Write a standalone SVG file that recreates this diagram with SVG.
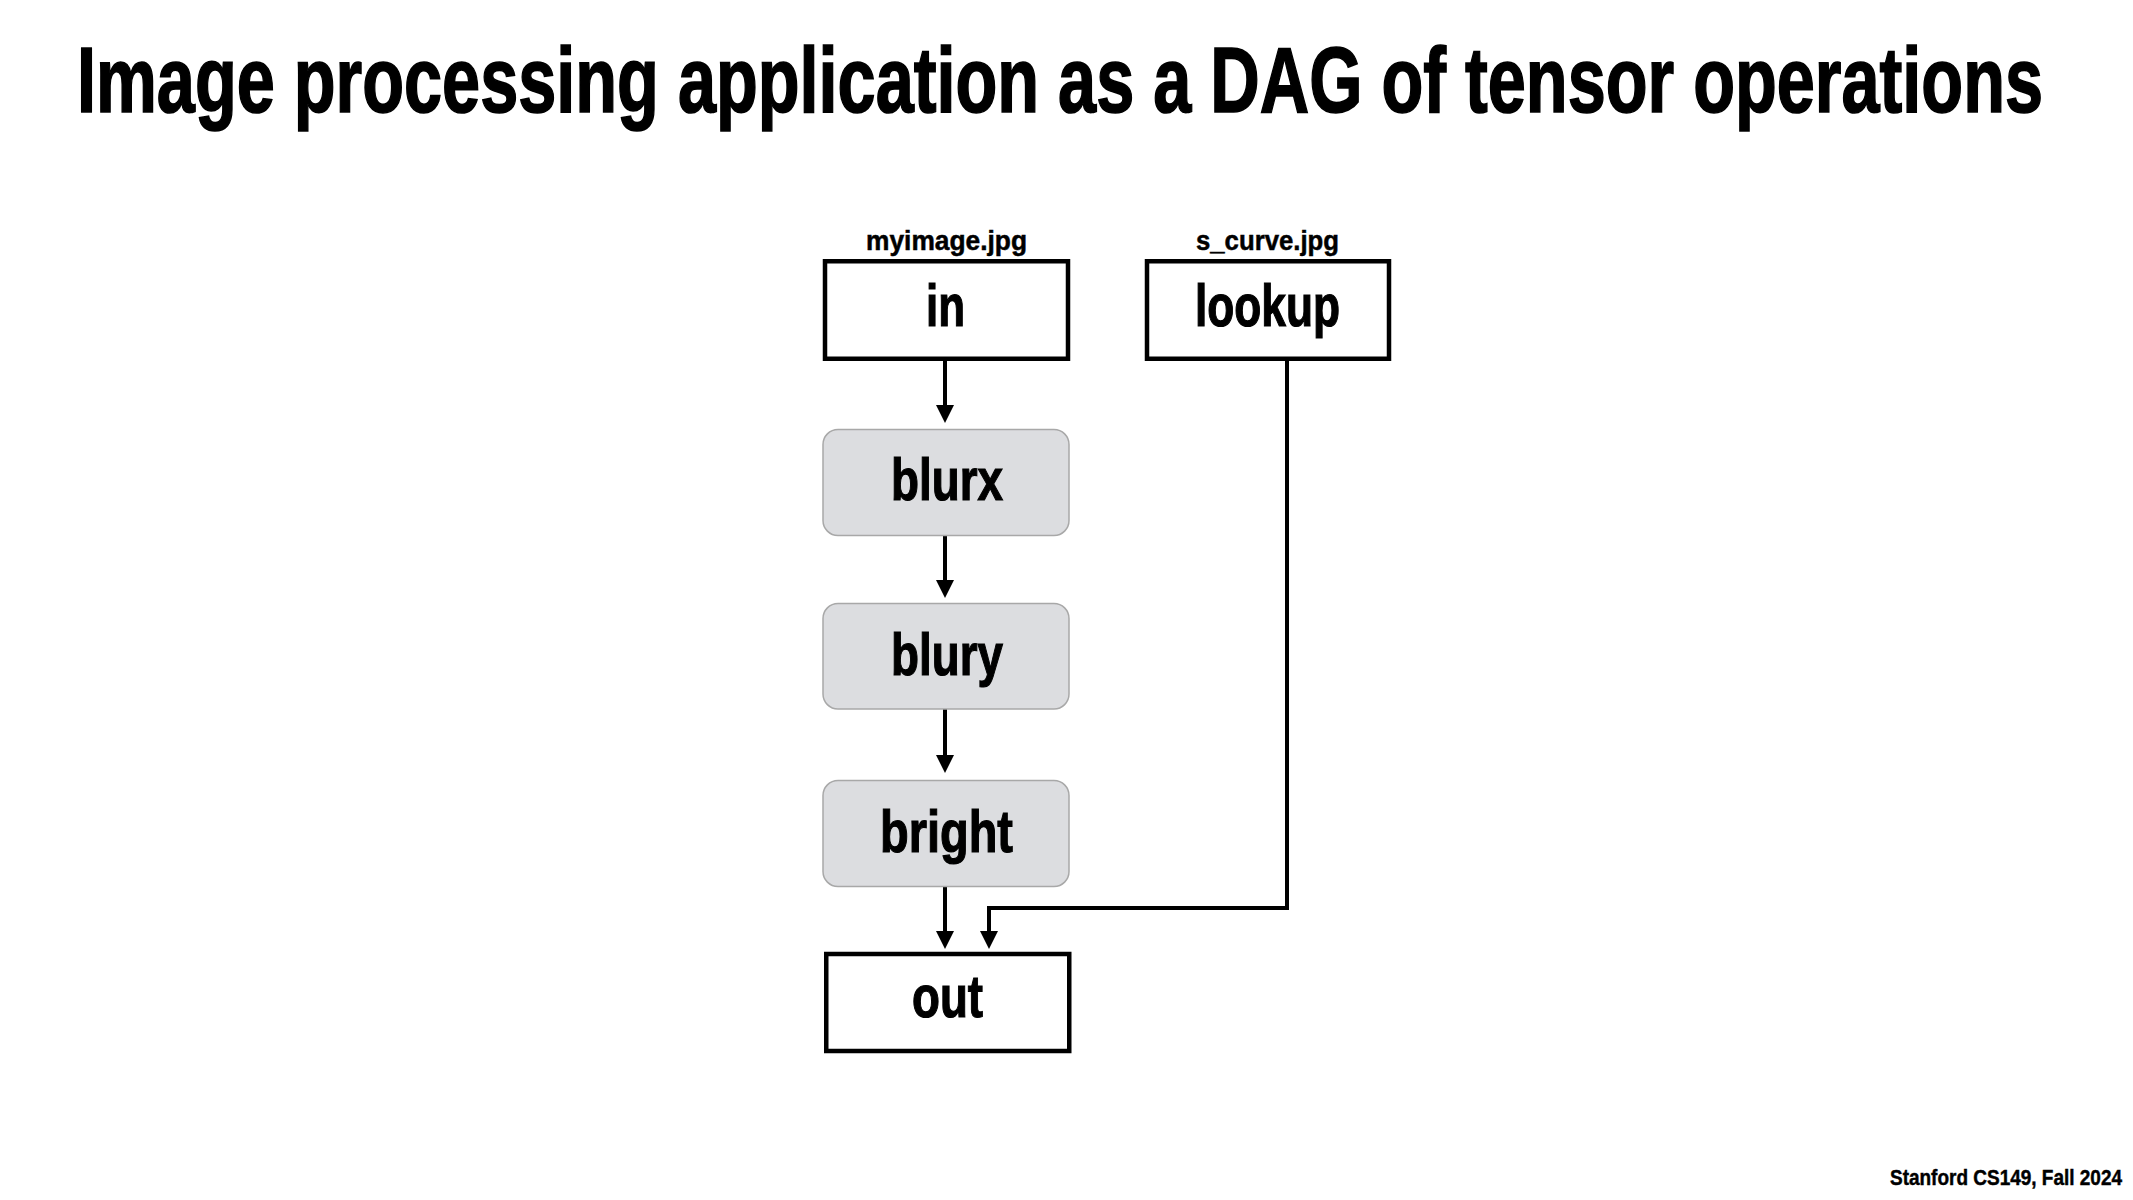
<svg xmlns="http://www.w3.org/2000/svg" width="2133" height="1200" viewBox="0 0 2133 1200">
<style>
text{font-family:"Liberation Sans Narrow","Liberation Sans",Arial,sans-serif;font-weight:bold;fill:#000}
.box{fill:#fff;stroke:#000;stroke-width:4.5}
.op{fill:#dcdde0;stroke:#a8a8a8;stroke-width:1.5}
.lbl{font-size:59px;stroke:#000;stroke-width:1.2}
.cap{font-size:28px;stroke:#000;stroke-width:0.5}
.edge{fill:none;stroke:#000;stroke-width:4}
.head{fill:#000}
</style>
<rect width="2133" height="1200" fill="#fff"/>
<g transform="translate(77,112) scale(1,1.5)">
<text x="0" y="0" font-size="62" stroke="#000" stroke-width="1.1" textLength="1966" lengthAdjust="spacingAndGlyphs">Image processing application as a DAG of tensor operations</text>
</g>
<g id="connectors">
<path class="edge" d="M945,361 V406"/>
<path class="head" d="M936,405 H954 L945,423 Z"/>
<path class="edge" d="M945,536 V581"/>
<path class="head" d="M936,580 H954 L945,598 Z"/>
<path class="edge" d="M945,709 V756"/>
<path class="head" d="M936,755 H954 L945,773 Z"/>
<path class="edge" d="M945,887 V932"/>
<path class="head" d="M936,931 H954 L945,949 Z"/>
<path class="edge" d="M1287,361 V908 H989 V932"/>
<path class="head" d="M980,931 H998 L989,949 Z"/>
</g>
<g id="node-in">
<text class="cap" x="866" y="250" textLength="161" lengthAdjust="spacingAndGlyphs">myimage.jpg</text>
<rect class="box" x="825" y="261.25" width="243" height="97.5"/>
<text class="lbl" x="926" y="326" textLength="39" lengthAdjust="spacingAndGlyphs">in</text>
</g>
<g id="node-lookup">
<text class="cap" x="1196" y="250" textLength="143" lengthAdjust="spacingAndGlyphs">s_curve.jpg</text>
<rect class="box" x="1147" y="261.25" width="242" height="97.5"/>
<text class="lbl" x="1195" y="326" textLength="145" lengthAdjust="spacingAndGlyphs">lookup</text>
</g>
<g id="node-blurx">
<rect class="op" x="823" y="429.5" width="246" height="106" rx="15"/>
<text class="lbl" x="891" y="500" textLength="112" lengthAdjust="spacingAndGlyphs">blurx</text>
</g>
<g id="node-blury">
<rect class="op" x="823" y="603.5" width="246" height="105.5" rx="15"/>
<text class="lbl" x="891" y="675" textLength="112" lengthAdjust="spacingAndGlyphs">blury</text>
</g>
<g id="node-bright">
<rect class="op" x="823" y="780.5" width="246" height="106" rx="15"/>
<text class="lbl" x="880" y="852" textLength="133" lengthAdjust="spacingAndGlyphs">bright</text>
</g>
<g id="node-out">
<rect class="box" x="826.25" y="954" width="243" height="97"/>
<text class="lbl" x="912" y="1017" textLength="71" lengthAdjust="spacingAndGlyphs">out</text>
</g>
<g transform="translate(1890,1185) scale(1,1.12)">
<text x="0" y="0" font-size="19" stroke="#000" stroke-width="0.4" textLength="232" lengthAdjust="spacingAndGlyphs">Stanford CS149, Fall 2024</text>
</g>
</svg>
